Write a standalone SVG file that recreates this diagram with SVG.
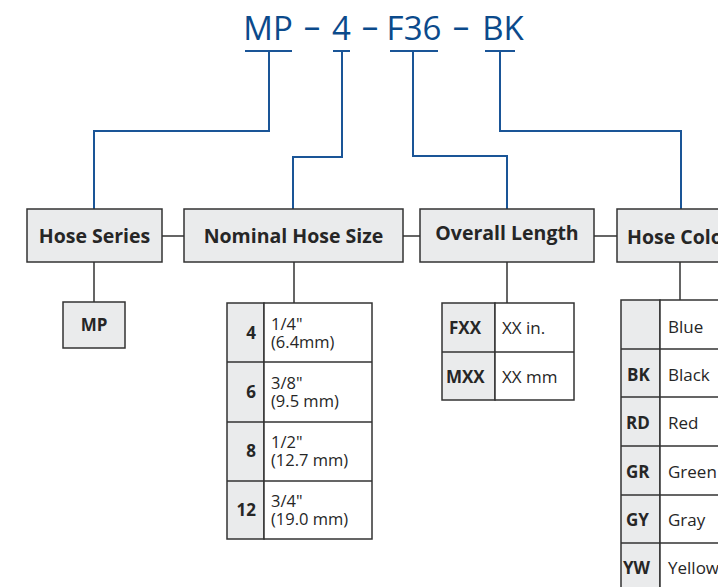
<svg xmlns="http://www.w3.org/2000/svg" width="718" height="587" viewBox="0 0 718 587">
<style>
.t{font-family:"Open Sans","Noto Sans","Liberation Sans",sans-serif;fill:#0b4a8b;font-size:33px}
.hb{fill:#eaebec;stroke:#333;stroke-width:1.5}
.hl{font-family:"Open Sans","Noto Sans","Liberation Sans",sans-serif;font-weight:bold;font-size:19.5px;fill:#262626;text-anchor:middle}
.blue{fill:none;stroke:#1a5597;stroke-width:2}
.gl{fill:none;stroke:#333;stroke-width:1.5}
.kc{fill:#eaebec;stroke:#333;stroke-width:1.5}
.vc{fill:#fff;stroke:#333;stroke-width:1.5}
.k{font-family:"Open Sans","Noto Sans","Liberation Sans",sans-serif;font-weight:bold;font-size:17px;fill:#262626}
.v{font-family:"Open Sans","Noto Sans","Liberation Sans",sans-serif;font-size:17px;fill:#262626}
.v2{font-family:"Open Sans","Noto Sans","Liberation Sans",sans-serif;font-size:16.5px;fill:#262626}
</style>
<g id="title">
<text class="t" x="268" y="40" text-anchor="middle">MP</text>
<text class="t" x="312" y="38" text-anchor="middle">–</text>
<text class="t" x="341.5" y="40" text-anchor="middle">4</text>
<text class="t" x="370" y="38" text-anchor="middle">–</text>
<text class="t" x="414" y="40" text-anchor="middle">F36</text>
<text class="t" x="461" y="38" text-anchor="middle">–</text>
<text class="t" x="503" y="40" text-anchor="middle">BK</text>
</g>
<g id="connectors">
<path class="blue" d="M245 51H292M269 51V131H94V209"/>
<path class="blue" d="M333 51H350M342 51V157H293V209"/>
<path class="blue" d="M390 51H438M413 51V156H507V209"/>
<path class="blue" d="M485 51H515M500 51V131H681V209"/>
<path class="gl" d="M162 236H184M403 236H420M594 236H617"/>
<path class="gl" d="M94 262V302M294 262V303M507 262V303M680 262V300"/>
</g>
<g id="hose-series">
<rect class="hb" x="27" y="209" width="135" height="53"/>
<text class="hl" x="94.5" y="243">Hose Series</text>
</g>
<g id="nominal-hose-size">
<rect class="hb" x="184" y="209" width="219" height="53"/>
<text class="hl" x="293.5" y="243">Nominal Hose Size</text>
</g>
<g id="overall-length">
<rect class="hb" x="420" y="209" width="174" height="53"/>
<text class="hl" x="507" y="240">Overall Length</text>
</g>
<g id="hose-color">
<rect class="hb" x="617" y="209" width="130" height="53"/>
<text class="hl" x="627" y="244" style="text-anchor:start">Hose Color</text>
</g>
<g id="mp">
<rect class="hb" x="63" y="302" width="62" height="46"/>
<text class="k" x="94" y="331" text-anchor="middle">MP</text>
</g>
<g id="size-table">
<rect class="kc" x="227" y="303" width="37" height="236"/>
<rect class="vc" x="264" y="303" width="108" height="236"/>
<path class="gl" d="M227 362H372M227 422H372M227 481H372"/>
<text class="k" x="256" y="339" text-anchor="end">4</text>
<text class="v2" x="271" y="330">1/4"<tspan x="271" dy="18">(6.4mm)</tspan></text>
<text class="k" x="256" y="398" text-anchor="end">6</text>
<text class="v2" x="271" y="389">3/8"<tspan x="271" dy="18">(9.5 mm)</tspan></text>
<text class="k" x="256" y="457" text-anchor="end">8</text>
<text class="v2" x="271" y="448">1/2"<tspan x="271" dy="18">(12.7 mm)</tspan></text>
<text class="k" x="256" y="516" text-anchor="end">12</text>
<text class="v2" x="271" y="507">3/4"<tspan x="271" dy="18">(19.0 mm)</tspan></text>
</g>
<g id="length-table">
<rect class="kc" x="442" y="303" width="53" height="97"/>
<rect class="vc" x="495" y="303" width="79" height="97"/>
<path class="gl" d="M442 352H574"/>
<text class="k" x="449" y="334">FXX</text>
<text class="v" x="502" y="334">XX in.</text>
<text class="k" x="446" y="383">MXX</text>
<text class="v" x="502" y="383">XX mm</text>
</g>
<g id="color-table">
<rect class="kc" x="621" y="300" width="39" height="300"/>
<rect class="vc" x="660" y="300" width="80" height="300"/>
<path class="gl" d="M621 349H740M621 397H740M621 446H740M621 495H740M621 543H740"/>
<text class="v" x="668" y="333">Blue</text>
<text class="k" x="627" y="381">BK</text><text class="v" x="668" y="381">Black</text>
<text class="k" x="626" y="429">RD</text><text class="v" x="668" y="429">Red</text>
<text class="k" x="626" y="478">GR</text><text class="v" x="668" y="478">Green</text>
<text class="k" x="626" y="526">GY</text><text class="v" x="668" y="526">Gray</text>
<text class="k" x="623" y="574">YW</text><text class="v" x="668" y="574">Yellow</text>
</g>
</svg>
